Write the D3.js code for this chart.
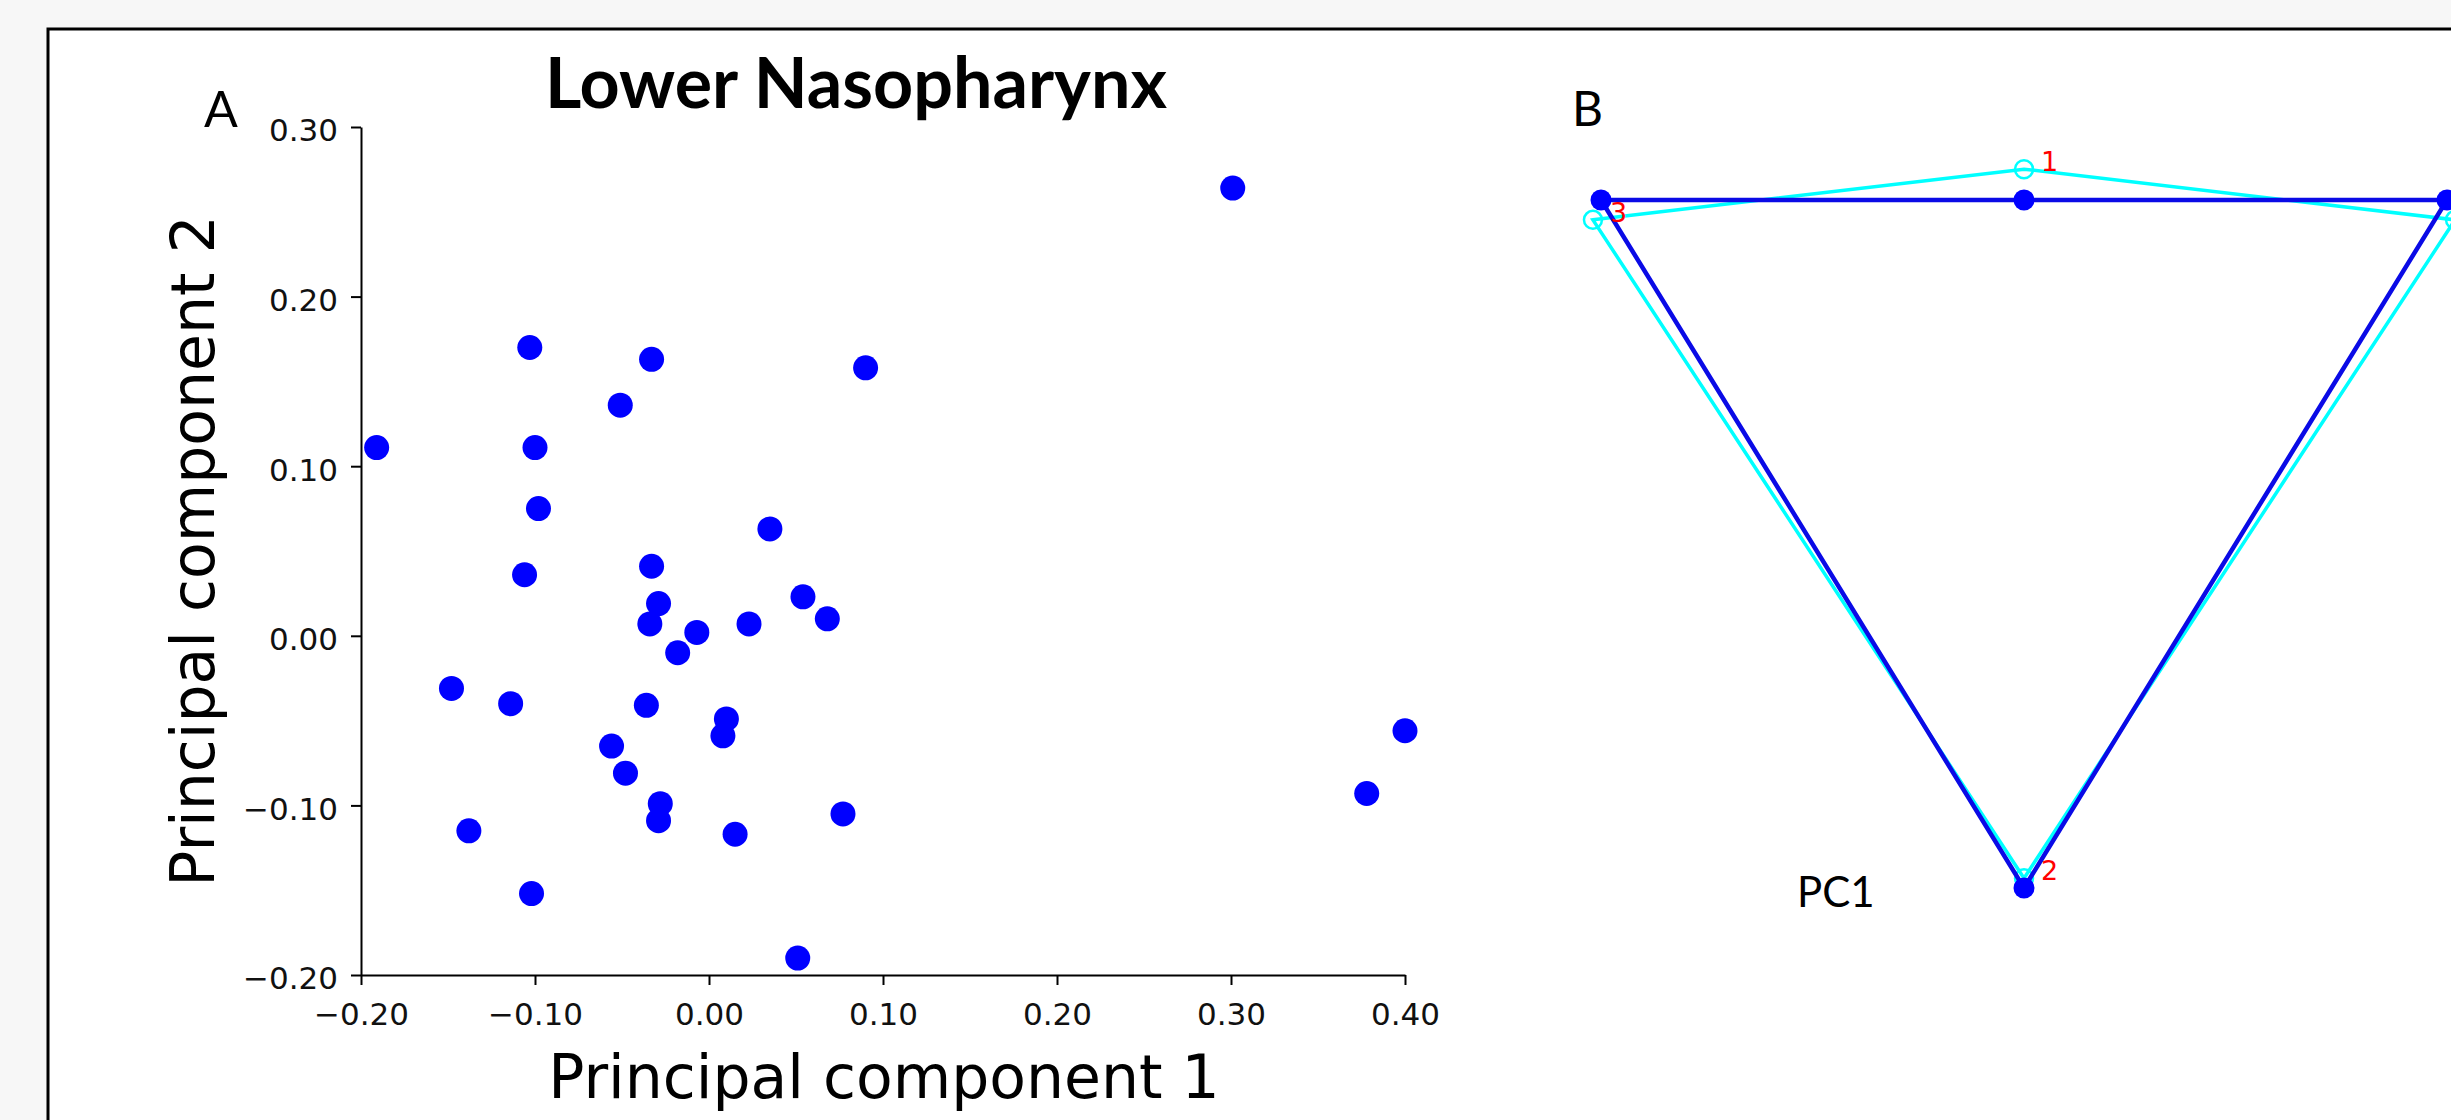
<!DOCTYPE html>
<meta charset="utf-8">
<script src="https://d3js.org/d3.v7.min.js"></script>
<style>
  body { margin: 0; background: #f7f7f7; }
</style>
<div id="my_dataviz"></div>
<script>

// ---- panel A: PCA scores ----
var pc1 = [-0.191, -0.051, -0.100, -0.098, 0.035, -0.106, -0.033, -0.029, -0.034, -0.007,
           -0.018, 0.023, 0.054, 0.068, -0.148, -0.114, -0.036, 0.010, 0.008, -0.056,
           -0.048, -0.028, -0.029, 0.015, 0.077, -0.138, -0.102, 0.051, -0.103, -0.033,
           0.090, 0.301, 0.400, 0.378];
var pc2 = [0.111, 0.136, 0.111, 0.075, 0.063, 0.036, 0.041, 0.019, 0.007, 0.002,
           -0.010, 0.007, 0.023, 0.010, -0.031, -0.040, -0.041, -0.049, -0.059, -0.065,
           -0.081, -0.099, -0.109, -0.117, -0.105, -0.115, -0.152, -0.190, 0.170, 0.163,
           0.158, 0.264, -0.056, -0.093];
var xTicks = [-0.2, -0.1, 0.0, 0.1, 0.2, 0.3, 0.4];
var yTicks = [-0.2, -0.1, 0.0, 0.1, 0.2, 0.3];

// ---- panel B: landmark shapes (mean vs PC1) ----
var landmarks = ["1", "2", "3", "4"];
var meanX = [0, 0, -1, 1];
var meanY = [0.5, -1.128, 0.5, 0.5];
var pcX = [0, 0, -1.019, 1.019];
var pcY = [0.573, -1.105, 0.453, 0.453];
var outlineOrder = [2, 0, 3, 1]; // 3 -> 1 -> 4 -> 2 -> back

var W = 2451, H = 1120;

var svg = d3.select("#my_dataviz")
  .append("svg")
    .attr("width", W)
    .attr("height", H);

// white slide frame
svg.append("rect")
  .attr("x", 48).attr("y", 29)
  .attr("width", W).attr("height", H)
  .attr("fill", "white")
  .attr("stroke", "black")
  .attr("stroke-width", 3);

// scales for A
var x = d3.scaleLinear().domain([-0.2, 0.4]).range([361, 1405]);
var y = d3.scaleLinear().domain([-0.2, 0.3]).range([975, 127]);

var fmt = d3.format(".2f");

var gx = svg.append("g")
  .attr("transform", "translate(0," + y(-0.2) + ")")
  .call(d3.axisBottom(x).tickValues(xTicks).tickFormat(fmt)
        .tickSize(10).tickSizeOuter(0).tickPadding(18));
var gy = svg.append("g")
  .attr("transform", "translate(" + x(-0.2) + ",0)")
  .call(d3.axisLeft(y).tickValues(yTicks).tickFormat(fmt)
        .tickSize(10).tickSizeOuter(0).tickPadding(13));

[gx, gy].forEach(function(g) {
  g.selectAll("path, line").attr("stroke", "black").attr("stroke-width", 2);
  g.selectAll("text")
    .attr("font-family", "DejaVu Sans")
    .attr("font-size", 31)
    .attr("fill", "#111");
});
gy.selectAll("text").attr("dy", "0.45em");

// points
svg.append("g")
  .selectAll("circle")
  .data(pc1)
  .enter().append("circle")
    .attr("cx", function(d) { return x(d); })
    .attr("cy", function(d, i) { return y(pc2[i]); })
    .attr("r", 12.5)
    .attr("fill", "#0000ff");

// labels A
svg.append("text")
  .attr("x", 884).attr("y", 1098)
  .attr("text-anchor", "middle")
  .attr("font-family", "DejaVu Sans")
  .attr("font-size", 60)
  .text("Principal component 1");

svg.append("text")
  .attr("transform", "translate(214," + y(0.05) + ") rotate(-90)")
  .attr("text-anchor", "middle")
  .attr("font-family", "DejaVu Sans")
  .attr("font-size", 60)
  .text("Principal component 2");

svg.append("text")
  .attr("x", 856).attr("y", 108)
  .attr("text-anchor", "middle")
  .attr("font-family", "Lato")
  .attr("font-weight", "bold")
  .attr("font-size", 70)
  .text("Lower Nasopharynx");

svg.append("text")
  .attr("x", 204).attr("y", 127)
  .attr("font-family", "Lato")
  .attr("font-size", 50)
  .text("A");

// ---- panel B ----
var xB = d3.scaleLinear().domain([-1, 1]).range([1601, 2447]);
var yB = d3.scaleLinear().domain([0.5, -1.128]).range([200, 888]);

function outline(xs, ys) {
  return d3.line()
    .x(function(i) { return xB(xs[i]); })
    .y(function(i) { return yB(ys[i]); })
    .curve(d3.curveLinearClosed)(outlineOrder);
}

// PC1 shape (cyan)
svg.append("path")
  .attr("d", outline(pcX, pcY))
  .attr("fill", "none")
  .attr("stroke", "#00ffff")
  .attr("stroke-width", 3.5);
svg.append("g")
  .selectAll("circle")
  .data(landmarks)
  .enter().append("circle")
    .attr("cx", function(d, i) { return xB(pcX[i]); })
    .attr("cy", function(d, i) { return yB(pcY[i]); })
    .attr("r", 9)
    .attr("fill", "none")
    .attr("stroke", "#00ffff")
    .attr("stroke-width", 2.5);

// mean shape (blue)
svg.append("path")
  .attr("d", outline(meanX, meanY))
  .attr("fill", "none")
  .attr("stroke", "#0a0ae6")
  .attr("stroke-width", 4.5);
svg.append("g")
  .selectAll("circle")
  .data(landmarks)
  .enter().append("circle")
    .attr("cx", function(d, i) { return xB(meanX[i]); })
    .attr("cy", function(d, i) { return yB(meanY[i]); })
    .attr("r", 10.5)
    .attr("fill", "#0000ff");

// landmark numbers (landmark 4 sits past the right edge of the slide)
svg.append("g")
  .selectAll("text")
  .data(landmarks.filter(function(d, i) { return xB(pcX[i]) + 30 < W; }))
  .enter().append("text")
    .attr("x", function(d) { return xB(pcX[landmarks.indexOf(d)]) + 17; })
    .attr("y", function(d) { return yB(pcY[landmarks.indexOf(d)]) + 2; })
    .attr("font-family", "DejaVu Sans")
    .attr("font-size", 27)
    .attr("fill", "red")
    .text(function(d) { return d; });

svg.append("text")
  .attr("x", 1572).attr("y", 126)
  .attr("font-family", "Lato")
  .attr("font-size", 48)
  .text("B");

svg.append("text")
  .attr("x", 1797).attr("y", 907)
  .attr("font-family", "Lato")
  .attr("font-size", 42)
  .text("PC1");

</script>
